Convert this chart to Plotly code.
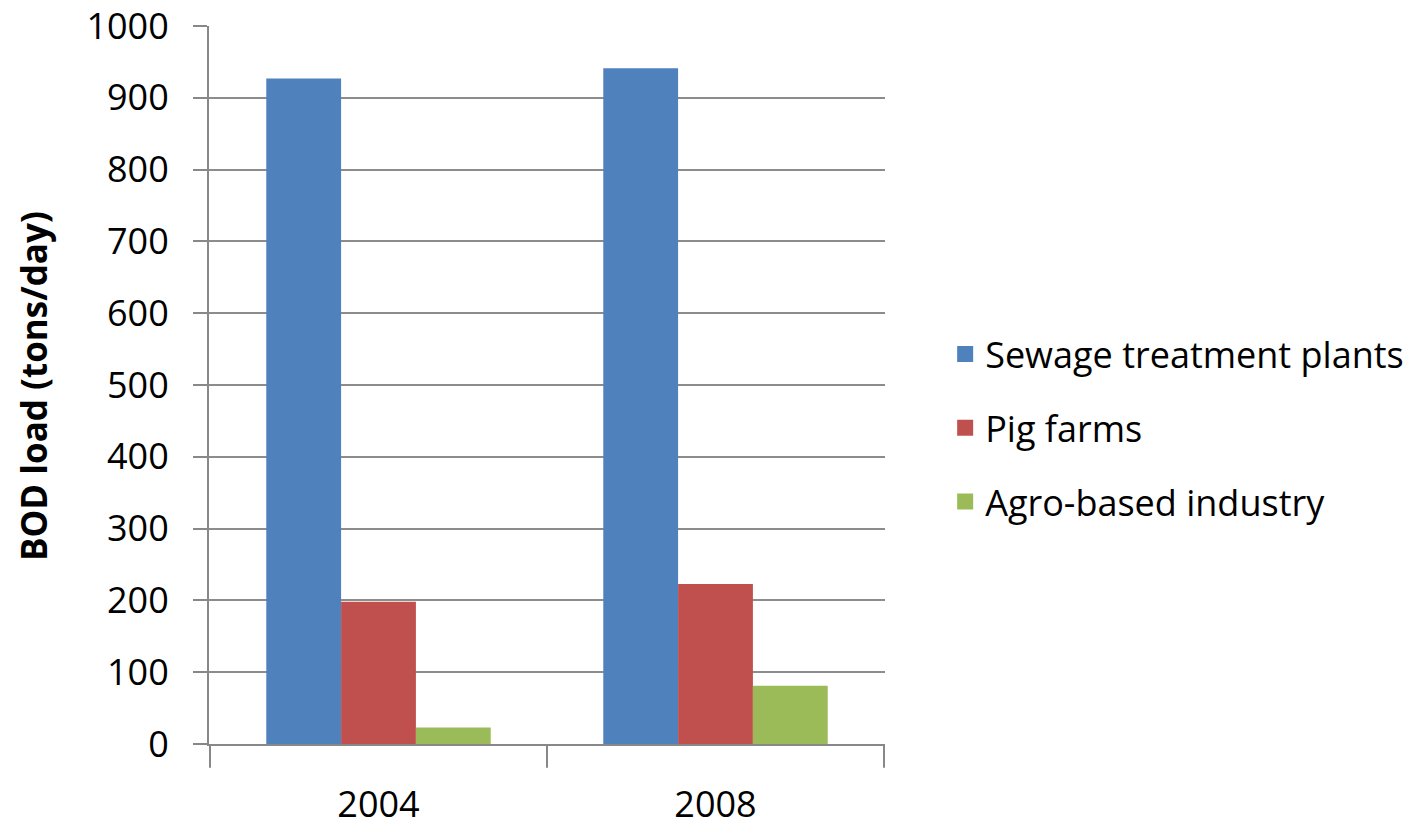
import plotly.graph_objects as go

years = ["2004", "2008"]
series_names = ["Sewage treatment plants", "Pig farms", "Agro-based industry"]
sewage = [927, 941]
pig = [198, 223]
agro = [23, 81]
y_ticks = [0, 100, 200, 300, 400, 500, 600, 700, 800, 900, 1000]

colors = ["#4F81BD", "#C0504D", "#9BBB59"]
FONT = "Open Sans"
FS = 36

fig = go.Figure()
for i, (name, vals) in enumerate(zip(series_names, [sewage, pig, agro])):
    fig.add_trace(go.Bar(
        x=years, y=vals, name=name, marker_color=colors[i],
        marker_line_width=0, showlegend=False,
    ))
# legend proxies with larger square swatches
for i, name in enumerate(series_names):
    fig.add_trace(go.Scatter(
        x=[None], y=[None], mode="markers", name=name, legendgroup=name,
        marker=dict(symbol="square", size=22, color=colors[i]),
        showlegend=True,
    ))

fig.update_layout(
    width=1428, height=830,
    margin=dict(l=209, r=543, t=26, b=86, autoexpand=False),
    paper_bgcolor="white", plot_bgcolor="white",
    barmode="group", bargap=0.334, bargroupgap=0,
    font=dict(family=FONT, color="#000000", size=FS),
    showlegend=True,
    legend=dict(
        x=1.089, xanchor="left", y=0.44, yanchor="middle",
        font=dict(family=FONT, size=FS, color="#000000"),
        tracegroupgap=24, itemsizing="trace",
        bgcolor="rgba(0,0,0,0)",
    ),
    xaxis=dict(
        type="category",
        showline=True, linecolor="#888888", linewidth=2,
        ticks="outside", ticklen=0, showgrid=False,
        tickfont=dict(family=FONT, size=FS),
        ticklabelstandoff=28,
    ),
    yaxis=dict(
        range=[0, 1000], tickvals=y_ticks,
        showgrid=True, gridcolor="#8C8C8C", gridwidth=2,
        showline=True, linecolor="#888888", linewidth=2,
        ticks="outside", tickcolor="#888888", ticklen=14, tickwidth=2,
        tickfont=dict(family=FONT, size=FS),
        ticklabelstandoff=17,
        zeroline=False,
    ),
)

fig.add_annotation(
    text="<b>BOD load (tons/day)</b>", textangle=-90,
    xref="paper", yref="paper", x=(33 - 209) / 676, y=(744 - 386) / 718,
    xanchor="center", yanchor="middle", showarrow=False,
    font=dict(family=FONT, size=35, color="#000000"),
)

# category boundary ticks on x axis
for xv in [-0.5, 0.5, 1.5]:
    fig.add_shape(type="line", xref="x", yref="paper", x0=xv, x1=xv, y0=0, y1=-0.033,
                  line=dict(color="#888888", width=2))

fig.write_html("out.html")
